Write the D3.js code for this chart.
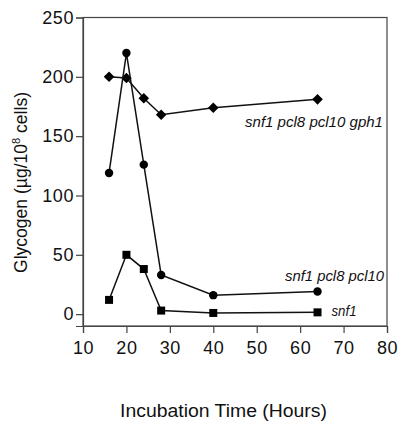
<!DOCTYPE html>
<html><head><meta charset="utf-8">
<script src="https://cdn.jsdelivr.net/npm/d3@7"></script>
<style>body{margin:0;background:#fff}svg{display:block}</style>
</head><body>
<svg id="c" width="400" height="430"></svg>
<script>
const hours = [16, 20, 24, 28, 40, 64];
const gph1 = [200, 199, 182, 168, 174, 181];
const pcl10 = [119, 220, 126, 33, 16, 19];
const snf1 = [12, 50, 38, 3, 1, 1.5];
const xTicks = [10, 20, 30, 40, 50, 60, 70, 80];
const yTicks = [0, 50, 100, 150, 200, 250];
const seriesNames = ["snf1 pcl8 pcl10 gph1", "snf1 pcl8 pcl10", "snf1"];

const svg = d3.select("#c");
const font = "Liberation Sans, Arial, Helvetica, sans-serif";
const x = d3.scaleLinear().domain([10, 80]).range([83, 387]);
const y = d3.scaleLinear().domain([-10, 250]).range([326, 17.5]);

// frame
svg.append("rect").attr("x", x(10)).attr("y", y(250)).attr("width", x(80) - x(10)).attr("height", y(-10) - y(250))
  .attr("fill", "none").attr("stroke", "#444").attr("stroke-width", 1.2);

const xa = svg.append("g").attr("transform", `translate(0,${y(-10)})`)
  .call(d3.axisBottom(x).tickValues(xTicks).tickSize(7).tickPadding(8).tickFormat(d3.format("d")));
const ya = svg.append("g").attr("transform", `translate(${x(10)},0)`)
  .call(d3.axisLeft(y).tickValues(yTicks).tickSize(7).tickPadding(2).tickFormat(d3.format("d")));
[xa, ya].forEach(a => {
  a.select(".domain").attr("stroke", "#444").attr("stroke-width", 1.2);
  a.selectAll(".tick line").attr("stroke", "#444").attr("stroke-width", 1.2);
  a.selectAll("text").attr("font-family", font).attr("font-size", 18).attr("letter-spacing", 0.6).attr("fill", "#111");
});

const line = d3.line().x((d, i) => x(hours[i])).y(d => y(d));
const data = [gph1, pcl10, snf1];
const shapes = [d3.symbolSquare, d3.symbolCircle, d3.symbolSquare];
const sizes = [56, 56, 64];
data.forEach((vals, k) => {
  svg.append("path").attr("d", line(vals)).attr("fill", "none").attr("stroke", "#111").attr("stroke-width", 1.5);
  svg.selectAll(null).data(vals).enter().append("path")
    .attr("transform", (d, i) => `translate(${x(hours[i])},${y(d)})` + (k === 0 ? " rotate(45)" : ""))
    .attr("d", d3.symbol().type(shapes[k]).size(sizes[k])).attr("fill", "#000");
});

// series labels
const labels = [
  {t: seriesNames[0], x: 245, y: y(gph1[5]) + 28, w: 138},
  {t: seriesNames[1], x: 285, y: y(pcl10[5]) - 11, w: 99},
  {t: seriesNames[2], x: x(64) + 14, y: y(snf1[5]) + 4, w: 25}
];
labels.forEach(l => svg.append("text").attr("x", l.x).attr("y", l.y)
  .attr("textLength", l.w).attr("lengthAdjust", "spacingAndGlyphs")
  .attr("font-family", font).attr("font-size", 14).attr("font-style", "italic").attr("fill", "#111").text(l.t));

// axis titles
svg.append("text").attr("x", 120).attr("y", 417).attr("textLength", 207).attr("lengthAdjust", "spacingAndGlyphs")
  .attr("font-family", font).attr("font-size", 17.5).attr("fill", "#111").text("Incubation Time (Hours)");
const yt = svg.append("text").attr("transform", "translate(27,273) rotate(-90)")
  .attr("textLength", 181).attr("lengthAdjust", "spacingAndGlyphs")
  .attr("font-family", font).attr("font-size", 17.5).attr("fill", "#111");
yt.append("tspan").text("Glycogen (µg/10");
yt.append("tspan").attr("dy", -7).attr("font-size", 11).text("8");
yt.append("tspan").attr("dy", 7).text(" cells)");
</script>
</body></html>
